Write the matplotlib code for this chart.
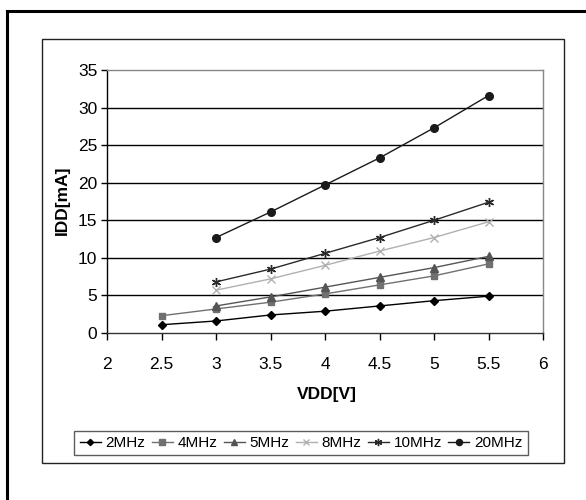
import matplotlib
matplotlib.use("Agg")
import matplotlib.pyplot as plt
from matplotlib.lines import Line2D
from matplotlib.patches import Rectangle

plt.rcParams['font.family'] = ['Liberation Sans', 'DejaVu Sans']

vdd_full = [2.5, 3.0, 3.5, 4.0, 4.5, 5.0, 5.5]
vdd_part = [3.0, 3.5, 4.0, 4.5, 5.0, 5.5]

idd_2mhz = [1.1, 1.6, 2.4, 2.9, 3.6, 4.3, 4.9]
idd_4mhz = [2.3, 3.2, 4.1, 5.2, 6.4, 7.6, 9.2]
idd_5mhz = [3.6, 4.8, 6.1, 7.4, 8.7, 10.2]
idd_8mhz = [5.7, 7.2, 9.0, 10.9, 12.7, 14.8]
idd_10mhz = [6.8, 8.5, 10.6, 12.7, 15.0, 17.4]
idd_20mhz = [12.7, 16.1, 19.7, 23.3, 27.3, 31.6]

labels = ['2MHz', '4MHz', '5MHz', '8MHz', '10MHz', '20MHz']
xticks = [2, 2.5, 3, 3.5, 4, 4.5, 5, 5.5, 6]
xticklabels = ['2', '2.5', '3', '3.5', '4', '4.5', '5', '5.5', '6']
yticks = [0, 5, 10, 15, 20, 25, 30, 35]

fig = plt.figure(figsize=(5.86, 5.0), dpi=100)
fig.patch.set_facecolor('white')

# outer frame (only left and top visible)
fig.add_artist(Line2D([6.5/586, 6.5/586], [0, 1 - 11/500], transform=fig.transFigure, color='black', lw=2.2))
fig.add_artist(Line2D([6.5/586, 1], [1 - 11/500, 1 - 11/500], transform=fig.transFigure, color='black', lw=2.2))
# inner chart frame
fig.add_artist(Rectangle((42/586, 1 - 463/500), (564-42)/586, (463-39)/500, transform=fig.transFigure,
                         fill=False, edgecolor='#222222', lw=1.0))

ax = fig.add_axes([107/586, 1 - 333/500, (543-107)/586, (333-70)/500])

series = [
    (vdd_full, idd_2mhz, '#000000', 'D', 4.0),
    (vdd_full, idd_4mhz, '#707070', 's', 5.0),
    (vdd_part, idd_5mhz, '#555555', '^', 5.5),
    (vdd_part, idd_8mhz, '#b0b0b0', 'x', 6.0),
    (vdd_part, idd_10mhz, '#2a2a2a', (6, 2, 0), 6.5),
    (vdd_part, idd_20mhz, '#1a1a1a', 'o', 5.5),
]
for (xs, ys, c, m, ms), lab in zip(series, labels):
    ax.plot(xs, ys, color=c, lw=1.0, marker=m, markersize=ms,
            markerfacecolor=c, markeredgecolor=c, markeredgewidth=1.0, label=lab)

ax.set_xlim(2, 6)
ax.set_ylim(0, 35)
ax.set_xticks(xticks)
ax.set_xticklabels(xticklabels)
ax.set_yticks(yticks)
for y in yticks[1:-1]:
    ax.axhline(y, color='black', lw=1.0, zorder=0)

ax.spines['top'].set_color('#888888')
ax.spines['right'].set_color('#888888')
ax.spines['left'].set_color('black')
ax.spines['bottom'].set_color('#333333')
for s in ax.spines.values():
    s.set_linewidth(1.0)

ax.tick_params(axis='y', direction='out', length=4, width=1, labelsize=12.5, pad=3, colors='black')
ax.tick_params(axis='x', direction='out', length=5, width=1, labelsize=12.5, pad=12, colors='black')

ax.set_ylabel('IDD[mA]', fontsize=12.5, fontweight='bold')
ax.set_xlabel('VDD[V]', fontsize=12.5, fontweight='bold')
ax.yaxis.set_label_coords((62-107)/436, (333-200)/263)
ax.yaxis.label.set_va('center')
ax.xaxis.set_label_coords((327-107)/436, (333-395)/263)
ax.xaxis.label.set_va('center')

leg = fig.legend(loc='center', bbox_to_anchor=(301/586, 1 - 443/500), ncol=6,
                 fontsize=11, frameon=True, fancybox=False, handlelength=1.4,
                 handletextpad=0.3, columnspacing=0.4, borderpad=0.35, markerscale=0.8)
leg.get_frame().set_edgecolor('#333333')
leg.get_frame().set_linewidth(1.0)

fig.savefig('out.png', dpi=100, facecolor='white')
